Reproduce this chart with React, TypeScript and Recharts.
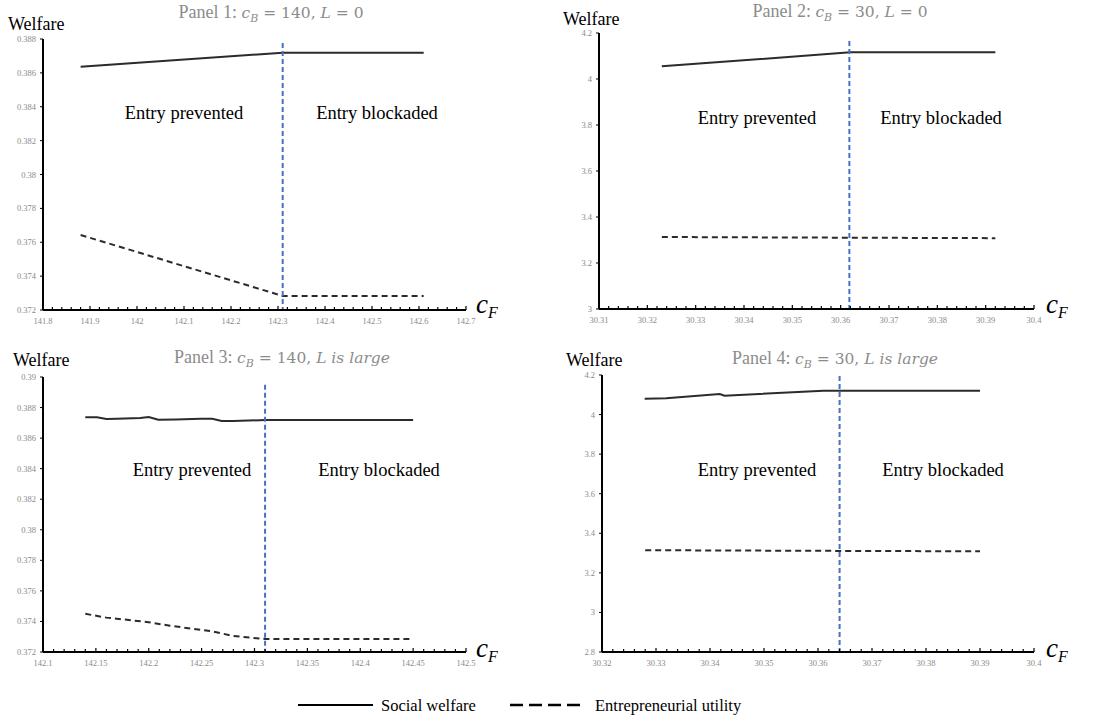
import React from 'react';
import { LineChart, Line, XAxis, YAxis, ReferenceLine } from 'recharts';

const SERIF = '"Liberation Serif", "Times New Roman", serif';
const MATH = '"DejaVu Serif", "Liberation Serif", serif';

// ---------- Panel 1: c_B = 140, L = 0 ----------
const p1XMajors = [141.8, 141.9, 142, 142.1, 142.2, 142.3, 142.4, 142.5, 142.6, 142.7];
const p1XLabels = ['141.8', '141.9', '142', '142.1', '142.2', '142.3', '142.4', '142.5', '142.6', '142.7'];
const p1YTicks = [0.372, 0.374, 0.376, 0.378, 0.38, 0.382, 0.384, 0.386, 0.388];
const p1YLabels = ['0.372', '0.374', '0.376', '0.378', '0.38', '0.382', '0.384', '0.386', '0.388'];
const p1WelfareX = [141.88, 142.31, 142.61];
const p1WelfareY = [0.38636, 0.38719, 0.38719];
const p1EntreX = [141.88, 142.31, 142.61];
const p1EntreY = [0.37643, 0.37283, 0.37283];
const p1Cutoff = 142.31;
const p1CutoffTop = 0.38776;

// ---------- Panel 2: c_B = 30, L = 0 ----------
const p2XMajors = [30.31, 30.32, 30.33, 30.34, 30.35, 30.36, 30.37, 30.38, 30.39, 30.4];
const p2XLabels = ['30.31', '30.32', '30.33', '30.34', '30.35', '30.36', '30.37', '30.38', '30.39', '30.4'];
const p2YTicks = [3, 3.2, 3.4, 3.6, 3.8, 4, 4.2];
const p2YLabels = ['3', '3.2', '3.4', '3.6', '3.8', '4', '4.2'];
const p2WelfareX = [30.323, 30.362, 30.392];
const p2WelfareY = [4.055, 4.116, 4.116];
const p2EntreX = [30.323, 30.362, 30.392];
const p2EntreY = [3.313, 3.31, 3.308];
const p2Cutoff = 30.3618;
const p2CutoffTop = 4.165;

// ---------- Panel 3: c_B = 140, L is large ----------
const p3XMajors = [142.1, 142.15, 142.2, 142.25, 142.3, 142.35, 142.4, 142.45, 142.5];
const p3XLabels = ['142.1', '142.15', '142.2', '142.25', '142.3', '142.35', '142.4', '142.45', '142.5'];
const p3YTicks = [0.372, 0.374, 0.376, 0.378, 0.38, 0.382, 0.384, 0.386, 0.388, 0.39];
const p3YLabels = ['0.372', '0.374', '0.376', '0.378', '0.38', '0.382', '0.384', '0.386', '0.388', '0.39'];
const p3WelfareX = [142.14, 142.151, 142.16, 142.17, 142.192, 142.2, 142.209, 142.226, 142.249, 142.26, 142.269, 142.28, 142.31, 142.45];
const p3WelfareY = [0.38736, 0.38736, 0.38725, 0.38727, 0.38731, 0.38738, 0.3872, 0.38722, 0.38727, 0.38727, 0.38712, 0.38712, 0.38718, 0.38718];
const p3EntreX = [142.14, 142.16, 142.2, 142.22, 142.26, 142.28, 142.31, 142.45];
const p3EntreY = [0.3745, 0.37425, 0.37395, 0.37372, 0.37335, 0.37305, 0.37285, 0.37285];
const p3Cutoff = 142.31;
const p3CutoffTop = 0.3895;

// ---------- Panel 4: c_B = 30, L is large ----------
const p4XMajors = [30.32, 30.33, 30.34, 30.35, 30.36, 30.37, 30.38, 30.39, 30.4];
const p4XLabels = ['30.32', '30.33', '30.34', '30.35', '30.36', '30.37', '30.38', '30.39', '30.4'];
const p4YTicks = [2.8, 3, 3.2, 3.4, 3.6, 3.8, 4, 4.2];
const p4YLabels = ['2.8', '3', '3.2', '3.4', '3.6', '3.8', '4', '4.2'];
const p4WelfareX = [30.3279, 30.3319, 30.3418, 30.3427, 30.361, 30.364, 30.39];
const p4WelfareY = [4.08, 4.082, 4.104, 4.095, 4.121, 4.121, 4.121];
const p4EntreX = [30.328, 30.364, 30.39];
const p4EntreY = [3.3145, 3.311, 3.309];
const p4Cutoff = 30.364;
const p4CutoffTop = 4.195;

const LINE_COLOR = '#2b2b2b';
const CUTOFF_COLOR = '#4472C4';
const TICK_COLOR = '#8a8a8a';

function toPoints(xs: number[], ys: number[]) {
  return xs.map((x, i) => ({ x, y: ys[i] }));
}

function buildTicks(majors: number[], subdivisions: number) {
  const out: number[] = [];
  for (let i = 0; i < majors.length - 1; i++) {
    const a = majors[i];
    const b = majors[i + 1];
    for (let k = 0; k < subdivisions; k++) {
      out.push(+(a + ((b - a) * k) / subdivisions).toFixed(6));
    }
  }
  out.push(majors[majors.length - 1]);
  return out;
}

type PanelProps = {
  left: number;
  top: number;
  width: number;
  height: number;
  marginTop: number;
  marginRight: number;
  yWidth: number;
  xHeight: number;
  xMajors: number[];
  xLabels: string[];
  subdivisions: number;
  yTicks: number[];
  yLabels: string[];
  welfareX: number[];
  welfareY: number[];
  entreX: number[];
  entreY: number[];
  cutoff: number;
  cutoffTop: number;
};

function Panel(p: PanelProps) {
  const axisY = p.height - p.xHeight;
  const xTicks = buildTicks(p.xMajors, p.subdivisions);
  const step = (p.xMajors[1] - p.xMajors[0]) / p.subdivisions;
  const XTick = (props: any) => {
    const { x, payload } = props;
    const idx = p.xMajors.findIndex((m) => Math.abs(m - payload.value) < step / 10);
    return (
      <g>
        <line x1={x} x2={x} y1={axisY - (idx >= 0 ? 4 : 3)} y2={axisY} stroke="#000" strokeWidth={1.2} />
        {idx >= 0 && (
          <text x={x} y={axisY + 14} textAnchor="middle" fontSize={8.5} fill={TICK_COLOR} fontFamily={SERIF}>
            {p.xLabels[idx]}
          </text>
        )}
      </g>
    );
  };
  const yFmt = (v: number) => {
    const idx = p.yTicks.findIndex((t) => Math.abs(t - v) < 1e-9);
    return idx >= 0 ? p.yLabels[idx] : String(v);
  };
  const yMin = p.yTicks[0];
  const yMax = p.yTicks[p.yTicks.length - 1];
  return (
    <div style={{ position: 'absolute', left: p.left, top: p.top, width: p.width, height: p.height }}>
      <LineChart
        width={p.width}
        height={p.height}
        margin={{ top: p.marginTop, right: p.marginRight, bottom: 0, left: 0 }}
      >
        <XAxis
          type="number"
          dataKey="x"
          domain={[p.xMajors[0], p.xMajors[p.xMajors.length - 1]]}
          ticks={xTicks}
          interval={0}
          height={p.xHeight}
          axisLine={{ stroke: '#000', strokeWidth: 2 }}
          tickLine={false}
          tick={<XTick />}
          allowDataOverflow
        />
        <YAxis
          type="number"
          domain={[yMin, yMax]}
          ticks={p.yTicks}
          interval={0}
          width={p.yWidth}
          axisLine={{ stroke: '#000', strokeWidth: 2 }}
          tickLine={{ stroke: '#000' }}
          tickSize={3}
          tickMargin={4}
          tickFormatter={yFmt}
          tick={{ fontSize: 8.5, fill: TICK_COLOR, fontFamily: SERIF }}
          allowDataOverflow
        />
        <Line
          data={toPoints(p.welfareX, p.welfareY)}
          dataKey="y"
          type="linear"
          stroke={LINE_COLOR}
          strokeWidth={2}
          dot={false}
          activeDot={false}
          isAnimationActive={false}
        />
        <Line
          data={toPoints(p.entreX, p.entreY)}
          dataKey="y"
          type="linear"
          stroke={LINE_COLOR}
          strokeWidth={2}
          strokeDasharray="6 4"
          dot={false}
          activeDot={false}
          isAnimationActive={false}
        />
        <ReferenceLine
          segment={[
            { x: p.cutoff, y: p.cutoffTop },
            { x: p.cutoff, y: yMin },
          ]}
          stroke={CUTOFF_COLOR}
          strokeWidth={2}
          strokeDasharray="5 3"
        />
      </LineChart>
    </div>
  );
}

function Title({ x, y, panel, cb, tail, tailItalic }: { x: number; y: number; panel: string; cb: string; tail: string; tailItalic: boolean }) {
  return (
    <text x={x} y={y} textAnchor="middle" fontFamily={SERIF} fontSize={18} fill="#8c8c8c">
      <tspan>{panel} </tspan>
      <tspan fontFamily={MATH} fontSize={15.5} fontStyle="italic">c</tspan>
      <tspan fontFamily={MATH} fontStyle="italic" fontSize={11} dy={4}>B</tspan>
      <tspan fontFamily={MATH} fontSize={15.5} dy={-4}>{` = ${cb}, `}</tspan>
      <tspan fontFamily={MATH} fontSize={15.5} fontStyle="italic">L</tspan>
      <tspan fontFamily={MATH} fontSize={15.5} fontStyle={tailItalic ? 'italic' : 'normal'}>{tail}</tspan>
    </text>
  );
}

function CF({ x, y }: { x: number; y: number }) {
  return (
    <text x={x} y={y} fontFamily={SERIF} fill="#000">
      <tspan fontStyle="italic" fontSize={27}>c</tspan>
      <tspan fontStyle="italic" fontSize={16} dy={5}>F</tspan>
    </text>
  );
}

function RegionText({ x, y, children }: { x: number; y: number; children: React.ReactNode }) {
  return (
    <text x={x} y={y} textAnchor="middle" fontFamily={SERIF} fontSize={18.5} fill="#000">
      {children}
    </text>
  );
}

export default function App() {
  return (
    <div style={{ position: 'absolute', left: 0, top: 0, width: 1100, height: 720, background: '#fff', fontFamily: SERIF }}>
      <Panel
        left={0} top={0} width={550} height={340}
        marginTop={39} marginRight={84} yWidth={43} xHeight={30}
        xMajors={p1XMajors} xLabels={p1XLabels} subdivisions={5}
        yTicks={p1YTicks} yLabels={p1YLabels}
        welfareX={p1WelfareX} welfareY={p1WelfareY}
        entreX={p1EntreX} entreY={p1EntreY}
        cutoff={p1Cutoff} cutoffTop={p1CutoffTop}
      />
      <Panel
        left={550} top={0} width={550} height={340}
        marginTop={33} marginRight={66} yWidth={49} xHeight={31}
        xMajors={p2XMajors} xLabels={p2XLabels} subdivisions={5}
        yTicks={p2YTicks} yLabels={p2YLabels}
        welfareX={p2WelfareX} welfareY={p2WelfareY}
        entreX={p2EntreX} entreY={p2EntreY}
        cutoff={p2Cutoff} cutoffTop={p2CutoffTop}
      />
      <Panel
        left={0} top={340} width={550} height={340}
        marginTop={37} marginRight={84} yWidth={43} xHeight={28}
        xMajors={p3XMajors} xLabels={p3XLabels} subdivisions={5}
        yTicks={p3YTicks} yLabels={p3YLabels}
        welfareX={p3WelfareX} welfareY={p3WelfareY}
        entreX={p3EntreX} entreY={p3EntreY}
        cutoff={p3Cutoff} cutoffTop={p3CutoffTop}
      />
      <Panel
        left={550} top={340} width={550} height={340}
        marginTop={35} marginRight={66} yWidth={52} xHeight={28}
        xMajors={p4XMajors} xLabels={p4XLabels} subdivisions={5}
        yTicks={p4YTicks} yLabels={p4YLabels}
        welfareX={p4WelfareX} welfareY={p4WelfareY}
        entreX={p4EntreX} entreY={p4EntreY}
        cutoff={p4Cutoff} cutoffTop={p4CutoffTop}
      />
      <svg width={1100} height={720} style={{ position: 'absolute', left: 0, top: 0, pointerEvents: 'none' }}>
        <Title x={271} y={18} panel="Panel 1:" cb="140" tail=" = 0" tailItalic={false} />
        <Title x={840} y={17} panel="Panel 2:" cb="30" tail=" = 0" tailItalic={false} />
        <Title x={282} y={363} panel="Panel 3:" cb="140" tail=" is large" tailItalic={true} />
        <Title x={835} y={364} panel="Panel 4:" cb="30" tail=" is large" tailItalic={true} />

        <text x={8} y={30} fontFamily={SERIF} fontSize={18} fill="#000">Welfare</text>
        <text x={563} y={25} fontFamily={SERIF} fontSize={18} fill="#000">Welfare</text>
        <text x={13} y={366} fontFamily={SERIF} fontSize={18} fill="#000">Welfare</text>
        <text x={566} y={366} fontFamily={SERIF} fontSize={18} fill="#000">Welfare</text>

        <CF x={476} y={313} />
        <CF x={1046} y={313} />
        <CF x={476} y={657} />
        <CF x={1046} y={657} />

        <RegionText x={184} y={119}>Entry prevented</RegionText>
        <RegionText x={377} y={119}>Entry blockaded</RegionText>
        <RegionText x={757} y={124}>Entry prevented</RegionText>
        <RegionText x={941} y={124}>Entry blockaded</RegionText>
        <RegionText x={192} y={476}>Entry prevented</RegionText>
        <RegionText x={379} y={476}>Entry blockaded</RegionText>
        <RegionText x={757} y={476}>Entry prevented</RegionText>
        <RegionText x={943} y={476}>Entry blockaded</RegionText>

        <line x1={298} x2={373} y1={705} y2={705} stroke="#000" strokeWidth={2.2} />
        <text x={381} y={711} fontFamily={SERIF} fontSize={16.5} fill="#000">Social welfare</text>
        <line x1={510} x2={580} y1={705} y2={705} stroke="#000" strokeWidth={2.5} strokeDasharray="13 6" />
        <text x={595} y={711} fontFamily={SERIF} fontSize={16.5} fill="#000">Entrepreneurial utility</text>
      </svg>
    </div>
  );
}
